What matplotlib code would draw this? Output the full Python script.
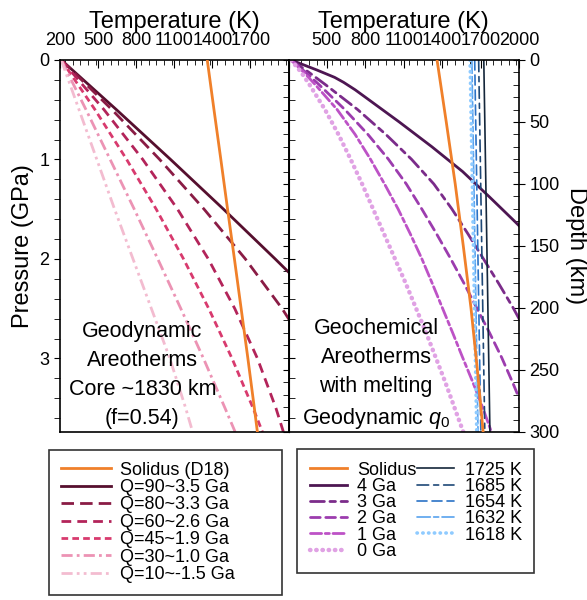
import matplotlib

matplotlib.use('Agg')
import matplotlib.pyplot as plt
from matplotlib.ticker import MultipleLocator

plt.rcParams['font.family'] = ['Liberation Sans', 'DejaVu Sans']
plt.rcParams['mathtext.fontset'] = 'custom'
plt.rcParams['mathtext.it'] = 'Liberation Sans:italic'
plt.rcParams['mathtext.rm'] = 'Liberation Sans'

P_MAX = 3.74      # GPa at the bottom of the plot
D_MAX = 300.0     # km at the bottom of the plot

# ---- left panel: geodynamic areotherms, T (K) against P (GPa)
p_full = [0, 0.5, 1.0, 1.5, 2.0, 2.5, 3.0, 3.5, 3.74]
solidus_d18 = [1360, 1413, 1467, 1520, 1574, 1627, 1680, 1731, 1755]

p_q90 = [0, 0.5, 1.0, 1.5, 2.0, 2.5]
t_q90 = [210, 645, 1071, 1488, 1895, 2293]
p_q80 = [0, 0.5, 1.0, 1.5, 2.0, 2.5, 3.0]
t_q80 = [210, 610, 985, 1335, 1660, 1950, 2200]
t_q60 = [210, 547, 852, 1126, 1368, 1577, 1755, 1901, 1960]
t_q45 = [210, 476, 725, 958, 1173, 1372, 1555, 1721, 1795]
t_q30 = [210, 405, 595, 785, 970, 1152, 1330, 1500, 1580]
t_q10 = [210, 350, 490, 630, 775, 920, 1065, 1190, 1245]

geodyn_labels = ['Q=90~3.5 Ga', 'Q=80~3.3 Ga', 'Q=60~2.6 Ga',
                 'Q=45~1.9 Ga', 'Q=30~1.0 Ga', 'Q=10~-1.5 Ga']

# ---- right panel: geochemical areotherms, T (K) against depth (km)
d_4ga = [0, 8, 14, 18, 24, 30, 50, 70, 90, 110, 130, 150]
t_4ga = [220, 420, 560, 630, 720, 800, 1065, 1320, 1560, 1765, 1965, 2160]
d_3ga = [0, 10, 20, 40, 60, 80, 100, 120, 140, 160, 180, 200, 220]
t_3ga = [220, 360, 490, 740, 960, 1160, 1335, 1475, 1600, 1720, 1840, 1955, 2060]
d_2ga = [0, 10, 20, 40, 60, 80, 100, 120, 140, 160, 180, 200, 220, 240, 260, 280]
t_2ga = [220, 335, 440, 640, 820, 980, 1120, 1240, 1355, 1465, 1570, 1670,
         1770, 1865, 1950, 2030]
d_std = [0, 10, 20, 40, 60, 80, 100, 120, 140, 160, 180, 200, 220, 240, 260, 280, 300]
t_1ga = [220, 320, 410, 580, 720, 840, 950, 1055, 1150, 1240, 1322, 1402,
         1482, 1560, 1640, 1715, 1785]
t_0ga = [220, 300, 365, 485, 590, 685, 775, 860, 945, 1030, 1115, 1195,
         1275, 1350, 1425, 1495, 1565]

d_sol = [0, 50, 100, 150, 200, 250, 300]
t_sol = [1360, 1432, 1502, 1565, 1625, 1675, 1720]

d_adiabat = [0, 300]
t_1725 = [1725, 1773]
t_1685 = [1685, 1733]
t_1654 = [1654, 1702]
t_1632 = [1632, 1680]
t_1618 = [1618, 1670]

orange = '#F0802A'
geodyn_colors = ['#560F2E', '#8A1C45', '#B3245A', '#D83A6E', '#EC93B4', '#F3BCD0']
geodyn_styles = ['-', (0, (4.5, 2.2)), (0, (3.5, 2.2)), (0, (2.4, 1.5)),
                 (0, (4, 1.5, 1, 1.5)), (0, (4, 1.5, 1, 1.5, 1, 1.5))]
geochem_colors = ['#4D1652', '#7B2C8A', '#9C3CAE', '#BD52C6', '#E0A2E4']
geochem_styles = ['-', (0, (5, 2, 2, 2)), (0, (3.5, 2)), (0, (4, 1.3, 1.5, 1.3)),
                  (0, (0.1, 1.3))]
melt_colors = ['#14263A', '#1E4877', '#2A72C6', '#58A2EE', '#8FCBFF']
melt_styles = ['-', (0, (7, 3, 3, 3)), (0, (6, 3)), (0, (8, 2, 3, 2)), (0, (0.1, 1.5))]

fig = plt.figure(figsize=(5.87, 6.0), dpi=100)
ax1 = fig.add_axes([60 / 587, 0.28, 228.5 / 587, 0.62])
ax2 = fig.add_axes([288.5 / 587, 0.28, 230.5 / 587, 0.62])


def p2d(p):
    return p * D_MAX / P_MAX


def d2p(d):
    return d * P_MAX / D_MAX


TICK_FS = 13
LABEL_FS = 17
NOTE_FS = 15.5

# ---- left panel
ax1.plot(solidus_d18, p_full, color=orange, lw=2, label='Solidus (D18)', zorder=5)
left_series = [(t_q90, p_q90), (t_q80, p_q80), (t_q60, p_full),
               (t_q45, p_full), (t_q30, p_full), (t_q10, p_full)]
for (t, p), c, ls, lab in zip(left_series, geodyn_colors, geodyn_styles, geodyn_labels):
    ax1.plot(t, p, color=c, ls=ls, lw=2, label=lab)

ax1.set_xlim(200, 2000)
ax1.set_ylim(P_MAX, 0)
ax1.xaxis.tick_top()
ax1.xaxis.set_label_position('top')
ax1.set_xlabel('Temperature (K)', fontsize=LABEL_FS, labelpad=3)
ax1.set_xticks([200, 500, 800, 1100, 1400, 1700, 2000])
ax1.set_xticklabels(['200', '500', '800', '1100', '1400', '1700', ''])
ax1.xaxis.set_minor_locator(MultipleLocator(60))
ax1.set_yticks([0, 1, 2, 3])
ax1.yaxis.set_minor_locator(MultipleLocator(0.2))
ax1.tick_params(axis='x', which='both', direction='in', labelsize=TICK_FS, pad=8)
ax1.tick_params(axis='x', which='major', length=6)
ax1.tick_params(axis='x', which='minor', length=3.5)
ax1.tick_params(axis='y', which='both', direction='out', labelsize=TICK_FS, length=4)
sec1 = ax1.secondary_yaxis('right', functions=(p2d, d2p))
sec1.yaxis.set_major_locator(MultipleLocator(50))
sec1.yaxis.set_minor_locator(MultipleLocator(10))
sec1.tick_params(which='both', direction='in', length=4, labelright=False)
ax1.text(0.36, 0.152, 'Geodynamic\nAreotherms\nCore ~1830 km\n(f=0.54)',
         transform=ax1.transAxes, ha='center', va='center', fontsize=NOTE_FS,
         linespacing=1.5)

# ---- right panel
h_sol, = ax2.plot(t_sol, d_sol, color=orange, lw=2, label='Solidus', zorder=5)
right_series = [(t_4ga, d_4ga), (t_3ga, d_3ga), (t_2ga, d_2ga),
                (t_1ga, d_std), (t_0ga, d_std)]
geochem_labels = ['4 Ga', '3 Ga', '2 Ga', '1 Ga', '0 Ga']
chem_handles = []
for (t, d), c, ls, lab in zip(right_series, geochem_colors, geochem_styles, geochem_labels):
    lw = 3.2 if lab == '0 Ga' else 2
    h, = ax2.plot(t, d, color=c, ls=ls, lw=lw, label=lab, dash_capstyle='round')
    chem_handles.append(h)

melt_series = [t_1725, t_1685, t_1654, t_1632, t_1618]
melt_labels = ['1725 K', '1685 K', '1654 K', '1632 K', '1618 K']
melt_handles = []
for t, c, ls, lab in zip(melt_series, melt_colors, melt_styles, melt_labels):
    lw = 2.6 if lab == '1618 K' else 1.2
    h, = ax2.plot(t, d_adiabat, color=c, ls=ls, lw=lw, label=lab, dash_capstyle='round')
    melt_handles.append(h)

ax2.set_xlim(200, 2000)
ax2.set_ylim(D_MAX, 0)
ax2.xaxis.tick_top()
ax2.xaxis.set_label_position('top')
ax2.set_xlabel('Temperature (K)', fontsize=LABEL_FS, labelpad=3)
ax2.set_xticks([200, 500, 800, 1100, 1400, 1700, 2000])
ax2.set_xticklabels(['', '500', '800', '1100', '1400', '1700', '2000'])
ax2.xaxis.set_minor_locator(MultipleLocator(60))
ax2.tick_params(axis='x', which='both', direction='in', labelsize=TICK_FS, pad=8)
ax2.tick_params(axis='x', which='major', length=6)
ax2.tick_params(axis='x', which='minor', length=3.5)
ax2.yaxis.tick_right()
ax2.set_yticks([0, 50, 100, 150, 200, 250, 300])
ax2.yaxis.set_minor_locator(MultipleLocator(10))
ax2.tick_params(axis='y', which='major', direction='inout', length=8, labelsize=TICK_FS)
ax2.tick_params(axis='y', which='minor', direction='in', length=4)
sec2 = ax2.secondary_yaxis('left', functions=(d2p, p2d))
sec2.yaxis.set_major_locator(MultipleLocator(1))
sec2.yaxis.set_minor_locator(MultipleLocator(0.2))
sec2.tick_params(which='both', direction='in', length=4, labelleft=False)
ax2.text(0.38, 0.155, 'Geochemical\nAreotherms\nwith melting\nGeodynamic $q_0$',
         transform=ax2.transAxes, ha='center', va='center', fontsize=NOTE_FS,
         linespacing=1.5)

for ax in (ax1, ax2):
    for s in ax.spines.values():
        s.set_linewidth(1.2)

# axis titles on the sides, centred on the plot height
fig.text(23 / 587, 1 - 246 / 600, 'Pressure (GPa)', rotation=90,
         ha='center', va='center', fontsize=LABEL_FS)
fig.text(576 / 587, 1 - 246 / 600, 'Depth (km)', rotation=270,
         ha='center', va='center', fontsize=LABEL_FS)

# ---- legends
h1, l1 = ax1.get_legend_handles_labels()
leg1 = fig.legend(h1, l1, loc='upper left',
                  bbox_to_anchor=(49 / 587, 1 - 596 / 600, 233 / 587, 146 / 600),
                  mode='expand', fontsize=13, frameon=True, fancybox=False,
                  edgecolor='black', handlelength=2.8, handletextpad=0.5,
                  labelspacing=0.02, borderpad=0.65, borderaxespad=0)
leg1.get_frame().set_linewidth(1.2)

h2 = [h_sol] + chem_handles + melt_handles
l2 = [h.get_label() for h in h2]
leg2 = fig.legend(h2, l2, loc='upper left', bbox_to_anchor=(297 / 587, 1 - 449 / 600),
                  ncol=2, fontsize=13, frameon=True, fancybox=False, edgecolor='black',
                  handlelength=2.05, handletextpad=0.6, labelspacing=-0.04,
                  columnspacing=0.0, borderpad=0.7, borderaxespad=0)
leg2.get_frame().set_linewidth(1.2)

fig.savefig('out.png', dpi=100)
